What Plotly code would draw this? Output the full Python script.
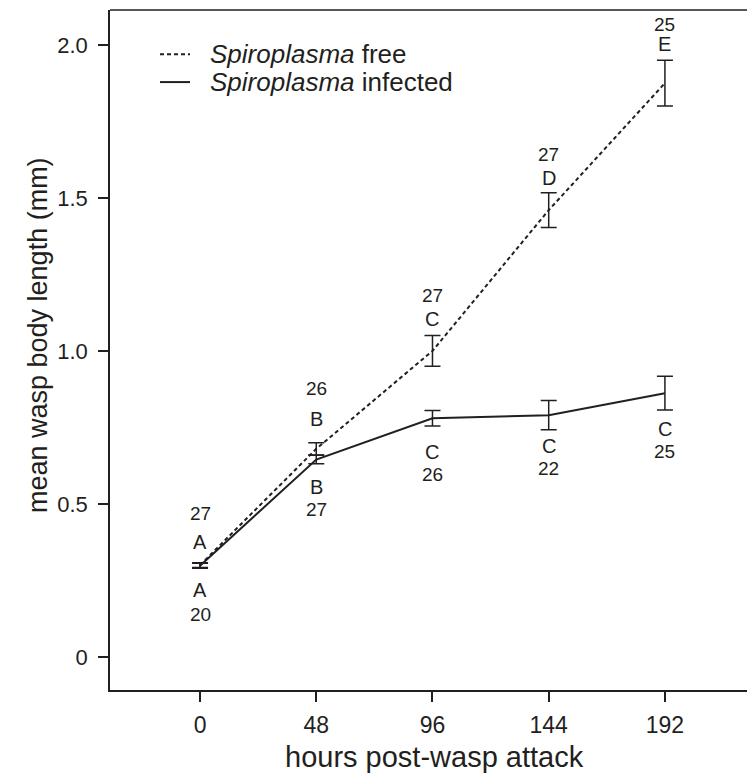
import plotly.graph_objects as go

hours = [0, 48, 96, 144, 192]
free_mean = [0.30, 0.68, 1.00, 1.46, 1.875]
free_err = [0.008, 0.02, 0.05, 0.057, 0.075]
inf_mean = [0.298, 0.645, 0.78, 0.79, 0.862]
inf_err = [0.008, 0.014, 0.025, 0.048, 0.055]
free_letters = ["A", "B", "C", "D", "E"]
free_n = ["27", "26", "27", "27", "25"]
inf_letters = ["A", "B", "C", "C", "C"]
inf_n = ["20", "27", "26", "22", "25"]
x_ticks = [0, 48, 96, 144, 192]
y_ticks = [0, 0.5, 1.0, 1.5, 2.0]
y_ticklabels = ["0", "0.5", "1.0", "1.5", "2.0"]
series_names = ["<i>Spiroplasma</i> free", "<i>Spiroplasma</i> infected"]
x_title = "hours post-wasp attack"
y_title = "mean wasp body length (mm)"

FONT = "Liberation Sans, Arial, sans-serif"
C = "#231f20"
DASH = "4px,3px"

W, H = 747, 775
L, T, B = 110, 10, 85
PW = W - L

def px(xpix):
    return xpix / PW

fig = go.Figure()
fig.add_trace(go.Scatter(
    x=hours, y=free_mean, mode="lines", name=series_names[0], showlegend=False,
    line=dict(color=C, width=2, dash=DASH),
    error_y=dict(type="data", array=free_err, visible=True, color=C, thickness=1.5, width=8),
))
fig.add_trace(go.Scatter(
    x=hours, y=inf_mean, mode="lines", name=series_names[1], showlegend=False,
    line=dict(color=C, width=2),
    error_y=dict(type="data", array=inf_err, visible=True, color=C, thickness=1.5, width=8),
))

# per-point pixel offsets for labels (layout only)
free_letter_shift = [21, 24, 17, 15, 16]
free_num_gap = [28, 30, 23, 23, 20]
inf_letter_shift = [22, 23, 26, 16, 19]
inf_num_gap = [24, 23, 23, 23, 23]

for i, h in enumerate(hours):
    top = free_mean[i] + free_err[i]
    fig.add_annotation(x=h, y=top, text=free_letters[i], showarrow=False,
                       yshift=free_letter_shift[i], font=dict(size=20, color=C, family=FONT))
    fig.add_annotation(x=h, y=top, text=free_n[i], showarrow=False,
                       yshift=free_letter_shift[i] + free_num_gap[i], font=dict(size=19, color=C, family=FONT))
    bot = inf_mean[i] - inf_err[i]
    fig.add_annotation(x=h, y=bot, text=inf_letters[i], showarrow=False,
                       yshift=-inf_letter_shift[i], font=dict(size=20, color=C, family=FONT))
    fig.add_annotation(x=h, y=bot, text=inf_n[i], showarrow=False,
                       yshift=-inf_letter_shift[i] - inf_num_gap[i], font=dict(size=19, color=C, family=FONT))

# manual legend (pixel offsets from plot left)
leg_y = [0.935, 0.894]
leg_dash = [DASH, "solid"]
for name, ly, d in zip(series_names, leg_y, leg_dash):
    fig.add_shape(type="line", xref="paper", yref="paper", x0=px(50), x1=px(80), y0=ly, y1=ly,
                  line=dict(color=C, width=2, dash=d))
    fig.add_annotation(xref="paper", yref="paper", x=px(98), y=ly, text=name, showarrow=False,
                       xanchor="left", yanchor="middle", font=dict(size=26, color=C, family=FONT))

# axis titles
fig.add_annotation(xref="paper", yref="paper", x=px(324.5), y=-0.0985, text=x_title, showarrow=False,
                   xanchor="center", yanchor="middle", font=dict(size=29, color=C, family=FONT))
fig.add_annotation(xref="paper", yref="paper", x=px(-72), y=0.522, text=y_title, showarrow=False,
                   textangle=-90, xanchor="center", yanchor="middle", font=dict(size=27, color=C, family=FONT))

# top border line
fig.add_shape(type="line", xref="paper", yref="paper", x0=0, x1=1, y0=1, y1=1,
              line=dict(color=C, width=1.5))

x_range = [-37.6 + 48 / 116.25, 225.9]

fig.update_layout(
    width=W, height=H,
    margin=dict(l=L, r=0, t=T, b=B, autoexpand=False),
    plot_bgcolor="white", paper_bgcolor="white",
    font=dict(family=FONT, color=C),
    showlegend=False,
    xaxis=dict(range=x_range, tickvals=x_ticks, ticktext=[str(v) for v in x_ticks],
               showgrid=False, zeroline=False, showline=True, linecolor=C, linewidth=1.5,
               ticks="outside", ticklen=10, tickwidth=1.5, tickcolor=C, automargin=False,
               ticklabelstandoff=4,
               tickfont=dict(size=23, color=C, family=FONT)),
    yaxis=dict(range=[-0.108, 2.114], tickvals=y_ticks, ticktext=y_ticklabels,
               showgrid=False, zeroline=False, showline=True, linecolor=C, linewidth=1.5,
               ticks="outside", ticklen=10, tickwidth=1.5, tickcolor=C, automargin=False,
               ticklabelstandoff=6,
               tickfont=dict(size=22, color=C, family=FONT)),
)

fig.write_html("out.html", config={"displayModeBar": False},
               post_script="document.body.style.margin='0';document.body.style.overflow='hidden';")
